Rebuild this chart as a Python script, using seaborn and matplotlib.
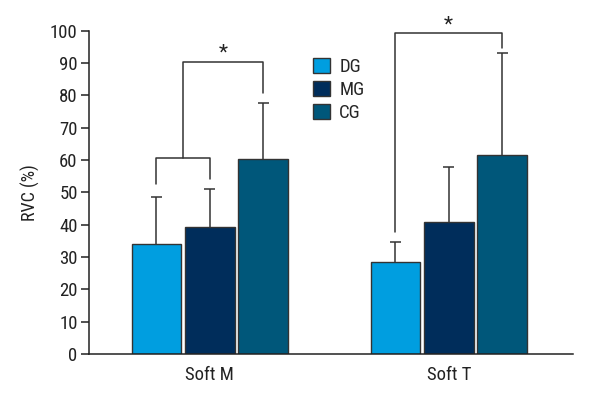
import matplotlib
matplotlib.use("Agg")
import matplotlib.pyplot as plt
import seaborn as sns
import pandas as pd
import numpy as np
from matplotlib import font_manager

# ---- data ----
groups = ["Soft M", "Soft T"]
series = ["DG", "MG", "CG"]
dg_mean = [34.1, 28.4]
mg_mean = [39.4, 40.7]
cg_mean = [60.2, 61.6]
dg_sd = [14.6, 6.4]
mg_sd = [11.8, 17.3]
cg_sd = [17.5, 31.6]
y_ticks = [0, 10, 20, 30, 40, 50, 60, 70, 80, 90, 100]

colors = ["#009EE0", "#002D5B", "#00577A"]

sns.set_style("white")
cands = [f.name for f in font_manager.fontManager.ttflist]
fam = None
for pref in ["Liberation Sans Narrow", "Roboto Condensed", "Open Sans Condensed", "DejaVu Sans Condensed"]:
    if pref in cands:
        fam = pref
        break
if fam is None:
    fam = "DejaVu Sans"
    plt.rcParams["font.stretch"] = "condensed"
plt.rcParams["font.family"] = [fam, "DejaVu Sans"]

rows = []
for i, g in enumerate(groups):
    for s, m, sd in zip(series, [dg_mean, mg_mean, cg_mean], [dg_sd, mg_sd, cg_sd]):
        rows.append({"group": g, "series": s, "value": m[i], "sd": sd[i]})
df = pd.DataFrame(rows)

fig = plt.figure(figsize=(6, 4), dpi=100)
ax = fig.add_axes([0.148, 0.115, 0.807, 0.808])

sns.barplot(data=df, x="group", y="value", hue="series", order=groups,
            hue_order=series, palette=colors, width=0.67, gap=0.07,
            errorbar=None, edgecolor="#333333", linewidth=1.0, ax=ax,
            saturation=1)

lc = "#333333"
lw = 1.1
cap = 0.023
# error bars (upper only) at bar centres
for j, s in enumerate(series):
    cont = ax.containers[j]
    for i, patch in enumerate(cont.patches):
        xc = patch.get_x() + patch.get_width() / 2
        sub = df[(df.group == groups[i]) & (df.series == s)].iloc[0]
        top = sub.value + sub.sd
        ax.vlines(xc, sub.value, top, color=lc, lw=lw, zorder=1)
        ax.hlines(top, xc - cap, xc + cap, color=lc, lw=lw, zorder=1)

def center(j, i):
    p = ax.containers[j].patches[i]
    return p.get_x() + p.get_width() / 2

# Soft M: DG-MG bracket
x1, x2 = center(0, 0), center(1, 0)
ax.plot([x1, x1, x2, x2], [52.5, 60.7, 60.7, 54.3], color=lc, lw=lw)
xm = (x1 + x2) / 2
x3 = center(2, 0)
ax.plot([xm, xm, x3, x3], [60.7, 90.3, 90.3, 80.7], color=lc, lw=lw)
ax.text((xm + x3) / 2, 93.0, "*", ha="center", va="center", fontsize=15, color="#222222")
# Soft T: DG-CG bracket
x1, x2 = center(0, 1), center(2, 1)
ax.plot([x1, x1, x2, x2], [37.6, 99.4, 99.4, 94.8], color=lc, lw=lw, clip_on=False)
ax.text((x1 + x2) / 2, 101.8, "*", ha="center", va="center", fontsize=15,
        color="#222222", clip_on=False)

fs = 13.5
ax.set_ylim(0, 100)
ax.set_xlim(-0.506, 1.52)
ax.set_yticks(y_ticks)
ax.set_yticklabels([str(t) for t in y_ticks], fontsize=fs, color="#222222")
ax.set_xticks([0, 1])
ax.set_xticklabels(groups, fontsize=fs, color="#222222")
ax.set_xlabel("")
ax.set_ylabel("RVC (%)", fontsize=13, color="#222222", labelpad=7)
ax.tick_params(axis="y", left=True, length=6, width=1.1, color="#222222", pad=2)
ax.tick_params(axis="x", bottom=False, pad=5)
for side in ["top", "right"]:
    ax.spines[side].set_visible(False)
for side in ["left", "bottom"]:
    ax.spines[side].set_color("#222222")
    ax.spines[side].set_linewidth(1.1)

leg = ax.legend(loc="upper left", bbox_to_anchor=(0.463, 0.915), frameon=False,
                fontsize=fs, handlelength=0.9, handleheight=0.85,
                handletextpad=0.5, labelspacing=0.25, borderaxespad=0,
                borderpad=0)
for h in leg.legend_handles:
    h.set_edgecolor("#333333")

fig.savefig("out.png", dpi=100)
